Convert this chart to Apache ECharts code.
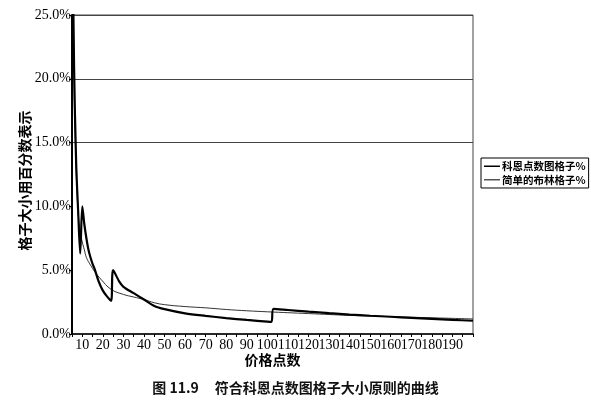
<!DOCTYPE html>
<html>
<head>
<meta charset="utf-8">
<script src="https://cdn.jsdelivr.net/npm/echarts@6/dist/echarts.min.js"></script>
<style>html,body{margin:0;padding:0;background:#fff}#c{width:591px;height:401px}</style>
</head>
<body>
<div id="c"></div>
<script>
// Price points (x) and box size % for the Cohen point & figure rule
var cohenPrice = [5, 6, 7, 8, 9, 10, 11, 12, 13, 14, 15, 16, 18, 20, 22, 24, 25, 28, 30, 35, 40, 45, 50, 60, 70, 80, 90, 100, 102, 103, 110, 120, 130, 140, 150, 160, 170, 180, 190, 200];
var cohenPct   = [35, 21, 13.5, 9.6, 6.3, 10.0, 8.6, 7.5, 6.6, 6.0, 5.5, 5.1, 4.1, 3.4, 2.95, 2.6, 5.0, 4.1, 3.7, 3.2, 2.7, 2.2, 1.95, 1.62, 1.42, 1.25, 1.1, 0.97, 0.95, 1.97, 1.88, 1.75, 1.63, 1.52, 1.43, 1.35, 1.27, 1.19, 1.11, 1.04];
// Price points (x) and box size % for the simple Bollinger rule
var simplePrice = [5, 6, 7, 8, 9, 10, 11, 12, 14, 16, 19, 24, 30, 35, 40, 45, 50, 60, 70, 80, 90, 100, 120, 140, 160, 180, 200];
var simplePct   = [40, 20, 13, 9.5, 8.0, 7.2, 6.6, 6.0, 5.4, 4.9, 4.3, 3.5, 3.1, 2.9, 2.7, 2.45, 2.3, 2.15, 2.05, 1.92, 1.82, 1.74, 1.6, 1.46, 1.36, 1.27, 1.18];
var seriesNames = ['科恩点数图格子%', '简单的布林格子%'];
var yTicks = [0, 5, 10, 15, 20, 25];

function pairs(xs, ys) { return xs.map(function (x, i) { return [x, ys[i]]; }); }

var chart = echarts.init(document.getElementById('c'), null, { renderer: 'canvas' });
chart.setOption({
  animation: false,
  backgroundColor: '#fff',
  title: {
    text: '图 11.9     符合科恩点数图格子大小原则的曲线',
    left: 'center', top: 376,
    textStyle: { fontFamily: 'Noto Sans CJK SC', fontSize: 14, fontWeight: 'bold', color: '#111' }
  },
  legend: {
    data: [
      { name: seriesNames[0], icon: 'rect', itemStyle: { color: '#000' } },
      { name: seriesNames[1], icon: 'rect', itemStyle: { color: '#555' } }
    ],
    orient: 'vertical',
    left: 481, top: 158,
    itemWidth: 16, itemHeight: 1.5, itemGap: 3,
    padding: [3, 3, 3, 3],
    borderColor: '#000', borderWidth: 1,
    textStyle: { fontFamily: 'Noto Sans CJK SC', fontSize: 10.5, fontWeight: 'bold', color: '#000', padding: [0, 0, 0, -3] }
  },
  grid: { left: 72, right: 118, top: 15, bottom: 67, show: true, borderColor: '#444', borderWidth: 1 },
  xAxis: {
    type: 'value', min: 5, max: 200, interval: 5,
    name: '价格点数', nameLocation: 'middle', nameGap: 19, nameMoveOverlap: false,
    nameTextStyle: { fontFamily: 'Noto Sans CJK SC', fontSize: 14, fontWeight: 'bold', color: '#000' },
    axisLine: { lineStyle: { color: '#000', width: 1.5 } },
    axisTick: { show: true, length: 3, lineStyle: { color: '#000' } },
    axisLabel: {
      margin: 4, color: '#000', fontFamily: 'Liberation Serif', fontSize: 14,
      formatter: function (v) { return (v % 10 === 0 && v >= 10 && v <= 190) ? String(v) : ''; }
    },
    splitLine: { show: false }
  },
  yAxis: {
    type: 'value', min: yTicks[0], max: yTicks[yTicks.length - 1], interval: 5,
    name: '格子大小用百分数表示', nameLocation: 'middle', nameGap: 40, nameRotate: 90, nameMoveOverlap: false,
    nameTextStyle: { fontFamily: 'Noto Sans CJK SC', fontSize: 14, fontWeight: 'bold', color: '#000', padding: [0, 0, 0, -12] },
    axisLine: { show: true, lineStyle: { color: '#000', width: 2 } },
    axisTick: { show: true, length: 3, lineStyle: { color: '#000' } },
    axisLabel: {
      margin: 1, color: '#000', fontFamily: 'Liberation Serif', fontSize: 14,
      formatter: function (v) { return v.toFixed(1) + '%'; }
    },
    splitLine: { show: true, lineStyle: { color: ['rgba(0,0,0,0)', 'rgba(0,0,0,0)', 'rgba(0,0,0,0)', '#444', '#444', '#444'], width: 1 } }
  },
  series: [
    {
      name: seriesNames[0], type: 'line', data: pairs(cohenPrice, cohenPct),
      symbol: 'none', smooth: 0.3, clip: true,
      lineStyle: { color: '#000', width: 2.2 }, itemStyle: { color: '#000' }, z: 3
    },
    {
      name: seriesNames[1], type: 'line', data: pairs(simplePrice, simplePct),
      symbol: 'none', smooth: 0.4, clip: true,
      lineStyle: { color: '#333', width: 1 }, itemStyle: { color: '#555' }, z: 2
    }
  ]
});
</script>
</body>
</html>
